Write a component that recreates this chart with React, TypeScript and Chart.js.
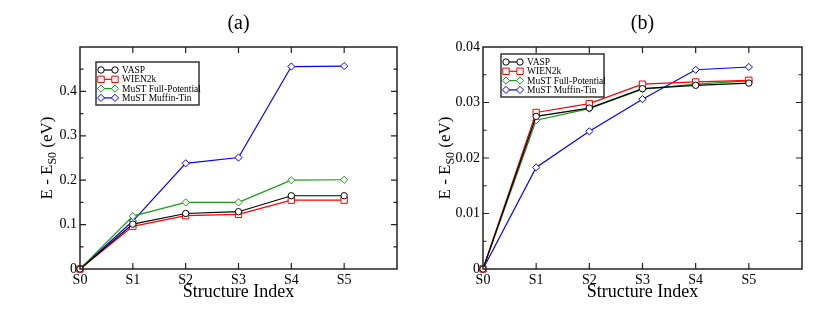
import React, { useEffect, useRef } from 'react';
import { Chart, registerables } from 'chart.js';
Chart.register(...registerables);

const STRUCTURES = ['S0', 'S1', 'S2', 'S3', 'S4', 'S5'];
const SERIES_NAMES = ['VASP', 'WIEN2k', 'MuST Full-Potential', 'MuST Muffin-Tin'];
const SERIES_COLORS = ['#000000', '#ff0000', '#1a9a1a', '#0000ff'];
const SERIES_SHAPES = ['circle', 'rect', 'rectRot', 'rectRot'];

const A_VASP = [0, 0.101, 0.125, 0.129, 0.165, 0.165];
const A_WIEN2K = [0, 0.096, 0.12, 0.123, 0.155, 0.155];
const A_MUST_FP = [0, 0.119, 0.15, 0.15, 0.2, 0.201];
const A_MUST_MT = [0, 0.108, 0.238, 0.251, 0.456, 0.457];
const A_Y_LABELS = ['0', '0.1', '0.2', '0.3', '0.4'];

const B_VASP = [0, 0.0275, 0.029, 0.0325, 0.0331, 0.0335];
const B_WIEN2K = [0, 0.0282, 0.0298, 0.0333, 0.0337, 0.034];
const B_MUST_FP = [0, 0.0268, 0.0289, 0.0324, 0.0333, 0.0339];
const B_MUST_MT = [0, 0.0183, 0.0248, 0.0306, 0.0359, 0.0364];
const B_Y_LABELS = ['0', '0.01', '0.02', '0.03', '0.04'];

const FONT = "'Liberation Serif', serif";

type Panel = {
  title: string;
  series: number[][];
  yMax: number;
  yStep: number;
  yLabels: string[];
  axisWidth: number;
  padRight: number;
  legendDx: number;
  legendDy: number;
  yTitleX: number;
};

const PANELS: Panel[] = [
  {
    title: '(a)',
    series: [A_VASP, A_WIEN2K, A_MUST_FP, A_MUST_MT],
    yMax: 0.5,
    yStep: 0.1,
    yLabels: A_Y_LABELS,
    axisWidth: 80,
    padRight: 18,
    legendDx: 16,
    legendDy: 15,
    yTitleX: 46,
  },
  {
    title: '(b)',
    series: [B_VASP, B_WIEN2K, B_MUST_FP, B_MUST_MT],
    yMax: 0.04,
    yStep: 0.01,
    yLabels: B_Y_LABELS,
    axisWidth: 68,
    padRight: 29,
    legendDx: 18,
    legendDy: 7,
    yTitleX: 29,
  },
];

function drawMarker(ctx: CanvasRenderingContext2D, shape: string, x: number, y: number, color: string) {
  ctx.save();
  ctx.fillStyle = '#fff';
  ctx.strokeStyle = color;
  ctx.lineWidth = 1;
  ctx.beginPath();
  if (shape === 'circle') {
    ctx.arc(x, y, 3.2, 0, Math.PI * 2);
  } else if (shape === 'rect') {
    ctx.rect(x - 3.2, y - 3.2, 6.4, 6.4);
  } else {
    const r = 3.6;
    ctx.moveTo(x, y - r);
    ctx.lineTo(x + r, y);
    ctx.lineTo(x, y + r);
    ctx.lineTo(x - r, y);
    ctx.closePath();
  }
  ctx.fill();
  ctx.stroke();
  ctx.restore();
}

function makePlugin(p: Panel) {
  return {
    id: 'decor',
    afterDraw(chart: any) {
      const ctx: CanvasRenderingContext2D = chart.ctx;
      const a = chart.chartArea;
      const xs = chart.scales.x;
      const ys = chart.scales.y;
      ctx.save();
      ctx.strokeStyle = '#222';
      ctx.lineWidth = 1.5;
      ctx.strokeRect(a.left, a.top, a.right - a.left, a.bottom - a.top);
      ctx.lineWidth = 1.2;
      ctx.beginPath();
      for (let i = 1; i < STRUCTURES.length; i++) {
        const x = xs.getPixelForValue(i);
        ctx.moveTo(x, a.bottom);
        ctx.lineTo(x, a.bottom - 6);
        ctx.moveTo(x, a.top);
        ctx.lineTo(x, a.top + 6);
      }
      const n = Math.round(p.yMax / p.yStep);
      for (let k = 1; k < n * 2; k++) {
        const v = (k * p.yStep) / 2;
        const y = ys.getPixelForValue(v);
        const len = k % 2 === 0 ? 6 : 3.5;
        ctx.moveTo(a.left, y);
        ctx.lineTo(a.left + len, y);
        ctx.moveTo(a.right, y);
        ctx.lineTo(a.right - len, y);
      }
      ctx.stroke();

      const cx = (a.left + a.right) / 2;
      ctx.fillStyle = '#000';
      ctx.font = `20px ${FONT}`;
      ctx.textAlign = 'center';
      ctx.textBaseline = 'middle';
      ctx.fillText(p.title, cx, 24);

      ctx.font = `18px ${FONT}`;
      ctx.fillText('Structure Index', cx, 292);

      const cy = (a.top + a.bottom) / 2;
      ctx.save();
      ctx.translate(p.yTitleX, cy);
      ctx.rotate(-Math.PI / 2);
      const big = `17px ${FONT}`;
      const small = `12px ${FONT}`;
      ctx.font = big;
      const w1 = ctx.measureText('E - E').width;
      const w3 = ctx.measureText(' (eV)').width;
      ctx.font = small;
      const w2 = ctx.measureText('S0').width;
      const total = w1 + w2 + w3;
      let tx = -total / 2;
      ctx.textAlign = 'left';
      ctx.textBaseline = 'alphabetic';
      ctx.font = big;
      ctx.fillText('E - E', tx, 6);
      tx += w1;
      ctx.font = small;
      ctx.fillText('S0', tx, 10);
      tx += w2;
      ctx.font = big;
      ctx.fillText(' (eV)', tx, 6);
      ctx.restore();

      const lx = a.left + p.legendDx;
      const ly = a.top + p.legendDy;
      const lw = 103;
      const lh = 43;
      ctx.fillStyle = '#fff';
      ctx.fillRect(lx, ly, lw, lh);
      ctx.strokeStyle = '#333';
      ctx.lineWidth = 1.5;
      ctx.strokeRect(lx, ly, lw, lh);
      ctx.font = `9.5px ${FONT}`;
      ctx.textAlign = 'left';
      ctx.textBaseline = 'middle';
      for (let i = 0; i < SERIES_NAMES.length; i++) {
        const ry = ly + 8 + i * 9.3;
        const x0 = lx + 5;
        const x1 = lx + 19;
        ctx.strokeStyle = SERIES_COLORS[i];
        ctx.lineWidth = 1.2;
        ctx.beginPath();
        ctx.moveTo(x0, ry);
        ctx.lineTo(x1, ry);
        ctx.stroke();
        drawMarker(ctx, SERIES_SHAPES[i], x0, ry, SERIES_COLORS[i]);
        drawMarker(ctx, SERIES_SHAPES[i], x1, ry, SERIES_COLORS[i]);
        ctx.fillStyle = '#000';
        ctx.fillText(SERIES_NAMES[i], lx + 26, ry + 0.5);
      }
      ctx.restore();
    },
  };
}

function PanelChart({ p, left, width }: { p: Panel; left: number; width: number }) {
  const ref = useRef<HTMLCanvasElement | null>(null);
  useEffect(() => {
    if (!ref.current) return;
    const labels = STRUCTURES.concat(['']);
    const chart = new Chart(ref.current, {
      type: 'line',
      data: {
        labels,
        datasets: p.series.map((vals, i) => ({
          label: SERIES_NAMES[i],
          data: vals,
          borderColor: SERIES_COLORS[i],
          backgroundColor: '#ffffff',
          borderWidth: 1.2,
          pointStyle: SERIES_SHAPES[i] as any,
          pointRadius: SERIES_SHAPES[i] === 'circle' ? 3.2 : SERIES_SHAPES[i] === 'rect' ? 4.5 : 3.6,
          pointBorderWidth: 1,
          pointBorderColor: SERIES_COLORS[i],
          pointBackgroundColor: '#ffffff',
          tension: 0,
          clip: false as any,
        })),
      },
      options: {
        responsive: false,
        animation: false,
        layout: { padding: { left: 0, right: p.padRight, top: 47, bottom: 0 } },
        plugins: { legend: { display: false }, tooltip: { enabled: false }, title: { display: false } },
        scales: {
          x: {
            type: 'category',
            offset: false,
            grid: { display: false, drawTicks: false },
            border: { display: false },
            ticks: {
              autoSkip: false,
              maxRotation: 0,
              padding: 3,
              color: '#000',
              font: { family: FONT, size: 14 },
            },
            afterFit: (s: any) => {
              s.height = 54;
            },
          },
          y: {
            min: 0,
            max: p.yMax,
            grid: { display: false, drawTicks: false },
            border: { display: false },
            ticks: {
              stepSize: p.yStep,
              padding: 3,
              color: '#000',
              font: { family: FONT, size: 14 },
              callback: (_v: any, idx: number) => (idx < p.yLabels.length ? p.yLabels[idx] : ''),
            },
            afterFit: (s: any) => {
              s.width = p.axisWidth;
            },
          },
        },
      },
      plugins: [makePlugin(p)],
    });
    const fonts: any = (document as any).fonts;
    if (fonts && fonts.load) {
      Promise.all([
        fonts.load(`14px 'Liberation Serif'`),
        fonts.load(`20px 'Liberation Serif'`),
      ])
        .then(() => chart.update())
        .catch(() => {});
    }
    return () => chart.destroy();
  }, [p]);
  return (
    <canvas
      ref={ref}
      width={width}
      height={323}
      style={{ position: 'absolute', left, top: 0, width, height: 323 }}
    />
  );
}

export default function App() {
  return (
    <div style={{ position: 'absolute', left: 0, top: 0, width: 831, height: 323, background: '#fff' }}>
      <PanelChart p={PANELS[0]} left={0} width={415} />
      <PanelChart p={PANELS[1]} left={415} width={416} />
    </div>
  );
}
